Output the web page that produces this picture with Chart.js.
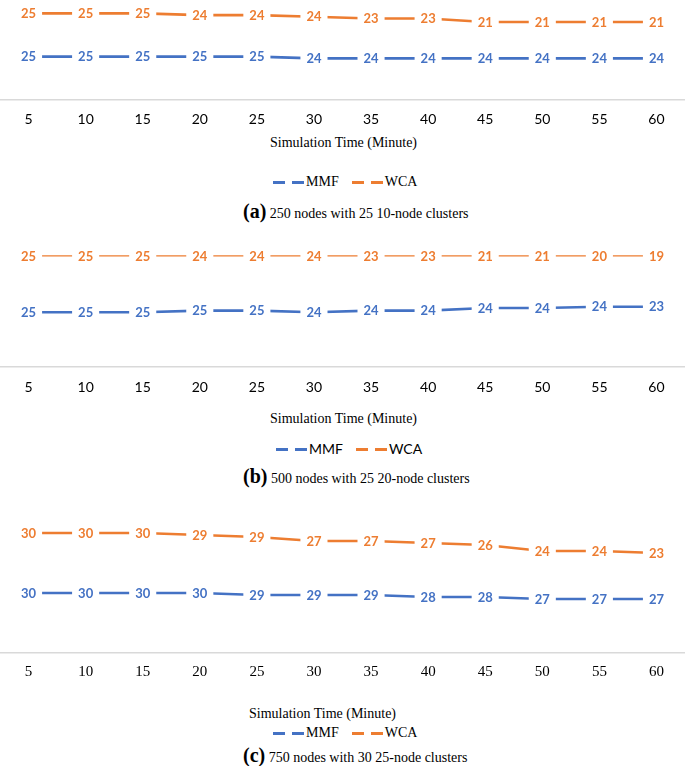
<!DOCTYPE html>
<html>
<head>
<meta charset="utf-8">
<script src="https://cdn.jsdelivr.net/npm/chart.js@4.4.1/dist/chart.umd.min.js"></script>
<style>
  body { margin: 0; background: #fff; width: 685px; height: 766px; overflow: hidden; position: relative; }
  canvas { position: absolute; left: 0; }
  .t { position: absolute; white-space: nowrap; font-family: "Liberation Serif", "Times New Roman", serif; color: #000; }
  .sim { font-size: 14px; line-height: 14px; }
  .leg { font-size: 14px; line-height: 14px; display: flex; align-items: center; }
  .leg .d { display: inline-block; width: 12px; height: 3px; margin-right: 7px; }
  .leg .d2 { margin-right: 2px; }
  .leg .gap { display: inline-block; width: 13px; }
  .sans { font-family: Lato, "Liberation Sans", sans-serif; }
  .cap { font-size: 14px; line-height: 22px; }
  .cap b { font-size: 20px; }
</style>
</head>
<body>
<canvas id="chartA" width="685" height="130" style="top:0px"></canvas>
<canvas id="chartB" width="685" height="157" style="top:240px"></canvas>
<canvas id="chartC" width="685" height="163" style="top:520px"></canvas>

<div class="t sim" style="left:270px; top:136px">Simulation Time (Minute)</div>
<div class="t leg" style="left:273px; top:175px">
  <span class="d" style="background:#4472C4"></span><span class="d d2" style="background:#4472C4"></span>MMF
  <span class="gap"></span>
  <span class="d" style="background:#ED7D31"></span><span class="d d2" style="background:#ED7D31"></span>WCA
</div>
<div class="t cap" style="left:243px; top:200px"><b>(a)</b> 250 nodes with 25 10-node clusters</div>

<div class="t sim" style="left:270px; top:412px">Simulation Time (Minute)</div>
<div class="t leg sans" style="left:276px; top:442px">
  <span class="d" style="background:#4472C4"></span><span class="d d2" style="background:#4472C4"></span>MMF
  <span class="gap"></span>
  <span class="d" style="background:#ED7D31"></span><span class="d d2" style="background:#ED7D31"></span>WCA
</div>
<div class="t cap" style="left:243px; top:465px"><b>(b)</b> 500 nodes with 25 20-node clusters</div>

<div class="t sim" style="left:249px; top:707px">Simulation Time (Minute)</div>
<div class="t leg" style="left:273px; top:726px">
  <span class="d" style="background:#4472C4"></span><span class="d d2" style="background:#4472C4"></span>MMF
  <span class="gap"></span>
  <span class="d" style="background:#ED7D31"></span><span class="d d2" style="background:#ED7D31"></span>WCA
</div>
<div class="t cap" style="left:243px; top:744px"><b>(c)</b> 750 nodes with 30 25-node clusters</div>

<script>
// x categories (simulation time in minutes)
const minutes = ['5', '10', '15', '20', '25', '30', '35', '40', '45', '50', '55', '60'];

// (a) 250 nodes, 25 clusters
const mmfA = [25, 25, 25, 25, 25, 24, 24, 24, 24, 24, 24, 24];
const wcaA = [25, 25, 25, 24, 24, 24, 23, 23, 21, 21, 21, 21];

// (b) 500 nodes, 25 clusters - labelled values
const mmfB = [25, 25, 25, 25, 25, 24, 24, 24, 24, 24, 24, 23];
const wcaB = [25, 25, 25, 24, 24, 24, 23, 23, 21, 21, 20, 19];
// (b) the plotted heights in the source don't follow the labels
const mmfBPlot = [24.9, 24.9, 24.9, 25.6, 25.6, 24.9, 25.6, 25.6, 26.8, 26.8, 27.4, 27.4];
const wcaBPlot = [50.5, 50.5, 50.5, 50.5, 50.5, 50.5, 50.5, 50.5, 50.5, 50.5, 50.5, 50.5];

// (c) 750 nodes, 30 clusters
const mmfC = [30, 30, 30, 30, 29, 29, 29, 28, 28, 27, 27, 27];
const wcaC = [30, 30, 30, 29, 29, 27, 27, 27, 26, 24, 24, 23];

const BLUE = '#4472C4';
const ORANGE = '#ED7D31';

// value labels sitting on the line with a white box behind them
const valueLabels = {
  id: 'valueLabels',
  afterDatasetsDraw(chart) {
    const ctx = chart.ctx;
    ctx.save();
    ctx.font = 'bold 13px Lato, "Liberation Sans", sans-serif';
    ctx.textAlign = 'center';
    ctx.textBaseline = 'middle';
    chart.data.datasets.forEach((ds, i) => {
      const meta = chart.getDatasetMeta(i);
      meta.data.forEach((pt, j) => {
        const txt = String(ds.valueLabels[j]);
        const w = ctx.measureText(txt).width;
        ctx.fillStyle = '#fff';
        ctx.fillRect(pt.x - w / 2 - 6, pt.y - 7.5, w + 12, 15);
        ctx.fillStyle = ds.borderColor;
        ctx.fillText(txt, pt.x, pt.y + 0.5);
      });
    });
    ctx.restore();
  }
};

function makeChart(id, mmf, wca, mmfPlot, wcaPlot, opt) {
  return new Chart(document.getElementById(id), {
    type: 'line',
    data: {
      labels: minutes,
      datasets: [
        { label: 'MMF', data: mmfPlot, valueLabels: mmf, borderColor: BLUE, borderWidth: opt.blueWidth, fill: false, tension: 0 },
        { label: 'WCA', data: wcaPlot, valueLabels: wca, borderColor: ORANGE, borderWidth: opt.orangeWidth, fill: false, tension: 0 }
      ]
    },
    options: {
      responsive: false,
      animation: false,
      devicePixelRatio: 1,
      layout: { padding: 0 },
      elements: { point: { radius: 0 } },
      plugins: { legend: { display: false }, tooltip: { enabled: false } },
      scales: {
        x: {
          offset: true,
          grid: { display: false, drawTicks: false },
          border: { display: true, color: '#d9d9d9', width: 1.5 },
          ticks: { color: '#000', padding: opt.tickPad, font: opt.tickFont, maxRotation: 0 },
          afterFit: s => { s.height = 30; }
        },
        y: { display: false, stacked: opt.stacked, min: 0, max: opt.max }
      }
    },
    plugins: [valueLabels]
  });
}

makeChart('chartA', mmfA, wcaA, mmfA, wcaA, {
  stacked: true, max: 57.7, blueWidth: 2.6, orangeWidth: 2.6, tickPad: 11,
  tickFont: { family: 'Lato, "Liberation Sans", sans-serif', size: 14 }
});
makeChart('chartB', mmfB, wcaB, mmfBPlot, wcaBPlot, {
  stacked: false, max: 57.7, blueWidth: 2.6, orangeWidth: 1.3, tickPad: 12,
  tickFont: { family: 'Lato, "Liberation Sans", sans-serif', size: 14 }
});
makeChart('chartC', mmfC, wcaC, mmfC, wcaC, {
  stacked: true, max: 66.5, blueWidth: 2.6, orangeWidth: 2.6, tickPad: 10,
  tickFont: { family: '"Liberation Serif", "Times New Roman", serif', size: 15 }
});
</script>
</body>
</html>
